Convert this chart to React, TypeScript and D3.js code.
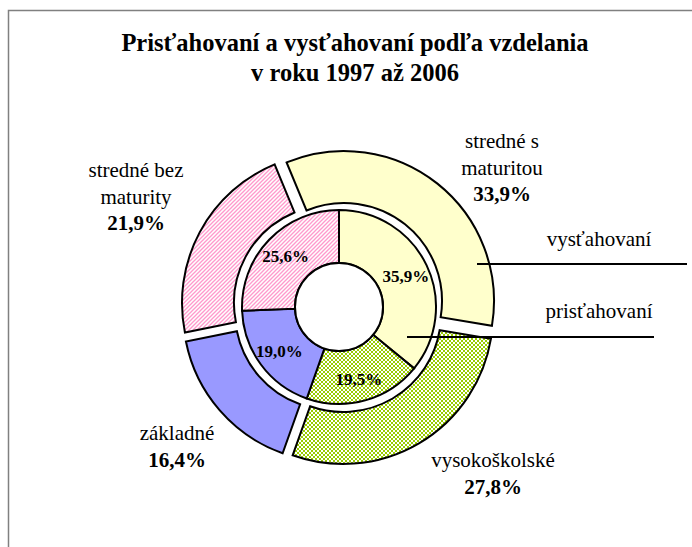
import * as d3 from 'd3';

// values (percent shares)
const categories = ['stredné s maturitou', 'vysokoškolské', 'základné', 'stredné bez maturity'];
const categoryLines = [['stredné s', 'maturitou'], ['vysokoškolské'], ['základné'], ['stredné bez', 'maturity']];
const vystahovani = [33.9, 27.8, 16.4, 21.9]; // outer ring
const pristahovani = [35.9, 19.5, 19.0, 25.6]; // inner ring
const ringNames = ['vysťahovaní', 'prisťahovaní'];
const titleLines = ['Prisťahovaní a vysťahovaní podľa vzdelania', 'v roku 1997 až 2006'];

const width = 692,
  height = 547;
const cx = 339,
  cy = 307;
const holeR = 44,
  innerOuterR = 97,
  outerInnerR = 98,
  outerOuterR = 150,
  explode = 8;
const outerStart = (-22.5 * Math.PI) / 180;

const fills = ['#FFFFCC', 'url(#checker)', '#9999FF', 'url(#hatch)'];
const serif = '"Liberation Serif", "Times New Roman", serif';

// where the outer labels sit (centre x, first baseline)
const outerLabelPos = [
  [502, 148],
  [493, 467],
  [177, 440],
  [136, 177],
];
const lineGap = 26.5;

// leader lines next to the rings
const ringLegend = [
  { text: [599, 246], line: [477, 687, 264] },
  { text: [599, 318], line: [407, 654, 337] },
];

const pct = (v: number) => d3.format('.1f')(v).replace('.', ',') + '%';

export default function App() {
  const innerPie = d3.pie<number>().sort(null).value((d) => d)(pristahovani);
  const outerPie = d3
    .pie<number>()
    .sort(null)
    .value((d) => d)
    .startAngle(outerStart)
    .endAngle(outerStart + 2 * Math.PI)(vystahovani);

  const innerArc = d3.arc<d3.PieArcDatum<number>>().innerRadius(holeR).outerRadius(innerOuterR);
  const outerArc = d3.arc<d3.PieArcDatum<number>>().innerRadius(outerInnerR).outerRadius(outerOuterR);
  const labelArc = d3.arc<d3.PieArcDatum<number>>().innerRadius(74).outerRadius(74);

  return (
    <svg
      width={width}
      height={height}
      style={{ position: 'absolute', left: 0, top: 0, background: '#fff' }}
      fontFamily={serif}
    >
      <defs>
        <pattern id="checker" width="4" height="4" patternUnits="userSpaceOnUse">
          <rect width="4" height="4" fill="#fff" shapeRendering="crispEdges" />
          <rect width="2" height="2" fill="#99CC00" shapeRendering="crispEdges" />
          <rect x="2" y="2" width="2" height="2" fill="#99CC00" shapeRendering="crispEdges" />
        </pattern>
        <pattern id="hatch" width="4" height="4" patternUnits="userSpaceOnUse">
          <rect width="4" height="4" fill="#fff" />
          <path d="M-1,1 l2,-2 M0,4 l4,-4 M3,5 l2,-2" stroke="#FF99CC" strokeWidth="1.3" />
        </pattern>
      </defs>

      <rect x={8.5} y={10.5} width={700} height={560} fill="none" stroke="#808080" strokeWidth={1.5} />

      {titleLines.map((t, i) => (
        <text key={t} x={355} y={51 + i * 30} textAnchor="middle" fontSize={24.5} fontWeight="bold">
          {t}
        </text>
      ))}

      <g transform={`translate(${cx},${cy})`}>
        {outerPie.map((d, i) => {
          const a = (d.startAngle + d.endAngle) / 2;
          const dx = Math.round(explode * Math.sin(a)),
            dy = Math.round(-explode * Math.cos(a));
          return (
            <path
              key={categories[i]}
              d={outerArc(d) ?? ''}
              transform={`translate(${dx},${dy})`}
              fill={fills[i]}
              stroke="#000"
              strokeWidth={2}
            />
          );
        })}
        {innerPie.map((d, i) => (
          <path key={categories[i]} d={innerArc(d) ?? ''} fill={fills[i]} stroke="#000" strokeWidth={2} />
        ))}
        <circle r={holeR} fill="#fff" stroke="#000" strokeWidth={2} />
        {innerPie.map((d, i) => {
          const [x, y] = labelArc.centroid(d);
          return (
            <text
              key={categories[i]}
              x={x}
              y={y}
              dy="0.38em"
              textAnchor="middle"
              fontSize={17}
              fontWeight="bold"
              fill="#000"
            >
              {pct(pristahovani[i])}
            </text>
          );
        })}
      </g>

      {categoryLines.map((lines, i) => {
        const [x, y0] = outerLabelPos[i];
        return (
          <text key={categories[i]} x={x} textAnchor="middle" fontSize={21} fill="#000">
            {lines.map((l, j) => (
              <tspan key={l} x={x} y={y0 + j * lineGap}>
                {l}
              </tspan>
            ))}
            <tspan x={x} y={y0 + lines.length * lineGap} fontWeight="bold">
              {pct(vystahovani[i])}
            </tspan>
          </text>
        );
      })}

      {ringLegend.map((r, i) => (
        <g key={ringNames[i]}>
          <text x={r.text[0]} y={r.text[1]} textAnchor="middle" fontSize={21}>
            {ringNames[i]}
          </text>
          <line x1={r.line[0]} x2={r.line[1]} y1={r.line[2]} y2={r.line[2]} stroke="#000" strokeWidth={2} />
        </g>
      ))}
    </svg>
  );
}
